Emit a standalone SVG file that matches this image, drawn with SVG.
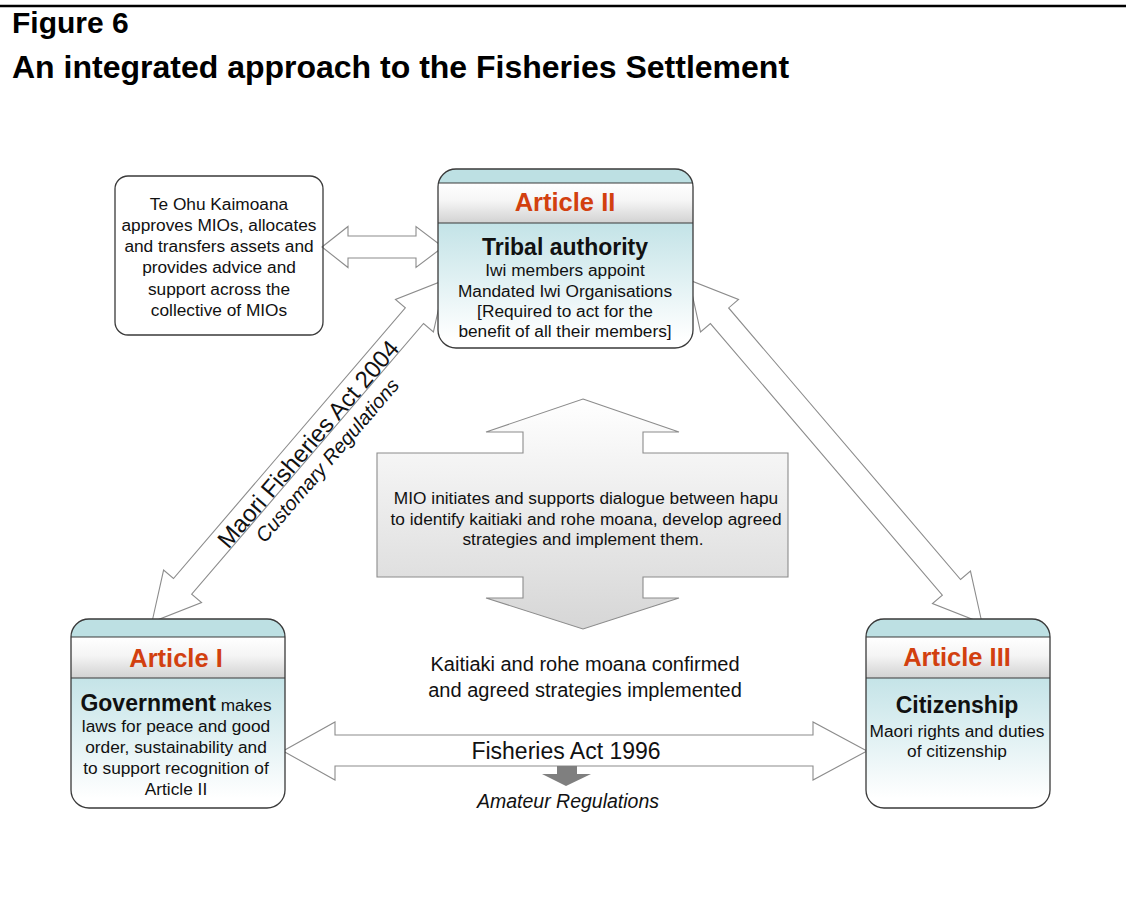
<svg xmlns="http://www.w3.org/2000/svg" width="1126" height="912" viewBox="0 0 1126 912">
<defs>
<style>
text{font-family:"Liberation Sans",Arial,Helvetica,sans-serif;fill:#111;}
.title{font-weight:bold;fill:#000;}
.art{font-weight:bold;font-size:25.5px;fill:#d2400f;text-anchor:middle;}
.head{font-weight:bold;font-size:23px;text-anchor:middle;}
.body{font-size:17.3px;text-anchor:middle;}
.frame{fill:none;stroke:#3a3a3a;stroke-width:1.3;}
.sep{stroke:#3a3a3a;stroke-width:1.1;}
.blk{fill:#fff;stroke:#8c8c8c;stroke-width:1.1;stroke-linejoin:miter;}
</style>
<linearGradient id="hdr" x1="0" y1="0" x2="0" y2="1">
<stop offset="0" stop-color="#ffffff"/><stop offset="0.45" stop-color="#f5f5f5"/><stop offset="1" stop-color="#d2d2d2"/>
</linearGradient>
<linearGradient id="bodyg" x1="0" y1="0" x2="0" y2="1">
<stop offset="0" stop-color="#bde0e3"/><stop offset="0.3" stop-color="#c3e3e7"/><stop offset="0.95" stop-color="#ffffff"/>
</linearGradient>
<linearGradient id="grayg" x1="0" y1="0" x2="0" y2="1">
<stop offset="0" stop-color="#ffffff"/><stop offset="1" stop-color="#d9d9d9"/>
</linearGradient>
<linearGradient id="miog" x1="0" y1="0" x2="0" y2="1">
<stop offset="0" stop-color="#ffffff"/><stop offset="1" stop-color="#d6d6d6"/>
</linearGradient>
<clipPath id="c1"><rect x="71" y="619" width="214" height="189" rx="18"/></clipPath>
<clipPath id="c2"><rect x="438" y="169" width="255" height="179" rx="18"/></clipPath>
<clipPath id="c3"><rect x="866" y="619" width="184" height="189" rx="18"/></clipPath>
</defs>
<rect width="1126" height="912" fill="#fff"/>
<line x1="0" y1="6" x2="1126" y2="6" stroke="#000" stroke-width="2.5"/>
<text x="12" y="33" class="title" font-size="30">Figure 6</text>
<text x="12" y="78" class="title" font-size="32">An integrated approach to the Fisheries Settlement</text>

<g id="connectors">
<polygon class="blk" points="322,247 348,226.5 348,236 416,236 416,226.5 443,247 416,267.5 416,258 348,258 348,267.5"/>
<polygon class="blk" points="152,622 163.59,570.03 173.47,578.49 405.32,307.88 395.44,299.42 445,280 433.42,331.96 423.54,323.5 191.69,594.11 201.57,602.57"/>
<polygon class="blk" points="689,280 700.52,331.98 710.41,323.53 942.34,595.07 932.45,603.52 982,623 970.47,571.04 960.58,579.49 728.65,307.95 738.54,299.5"/>
<polygon class="blk" points="283,751 335,722 335,735 813,735 813,722 867,751 813,780 813,766 335,766 335,780"/>
<polygon points="557,766 577,766 577,774 591,774 566,786 542,774 557,774" fill="#7f7f7f"/>
<text transform="translate(314.5,449.5) rotate(-49.4)" font-size="24" text-anchor="middle">Maori Fisheries Act 2004</text>
<text transform="translate(332.5,464.8) rotate(-49.4)" font-size="20" font-style="italic" text-anchor="middle">Customary Regulations</text>
<text x="566" y="759" font-size="23" text-anchor="middle">Fisheries Act 1996</text>
<text x="568" y="808" font-size="19.5" font-style="italic" text-anchor="middle">Amateur Regulations</text>
</g>

<g id="te-ohu-kaimoana">
<rect x="115" y="176" width="208" height="159" rx="13" fill="url(#grayg)" class="frame"/>
<text class="body" x="219" y="210">Te Ohu Kaimoana</text>
<text class="body" x="219" y="231">approves MIOs, allocates</text>
<text class="body" x="219" y="252">and transfers assets and</text>
<text class="body" x="219" y="273">provides advice and</text>
<text class="body" x="219" y="295">support across the</text>
<text class="body" x="219" y="316">collective of MIOs</text>
</g>

<g id="article-2">
<rect x="438" y="169" width="255" height="179" rx="18" fill="url(#bodyg)"/>
<g clip-path="url(#c2)">
<rect x="438" y="169" width="255" height="14" fill="#bde0e3"/>
<rect x="438" y="183" width="255" height="40" fill="url(#hdr)"/>
</g>
<line class="sep" x1="438" y1="183" x2="693" y2="183"/>
<line class="sep" x1="438" y1="223" x2="693" y2="223"/>
<rect x="438" y="169" width="255" height="179" rx="18" class="frame"/>
<text class="art" x="565" y="211">Article II</text>
<text class="head" x="565" y="255">Tribal authority</text>
<text class="body" x="565" y="276">Iwi members appoint</text>
<text class="body" x="565" y="297">Mandated Iwi Organisations</text>
<text class="body" x="565" y="317">[Required to act for the</text>
<text class="body" x="565" y="337">benefit of all their members]</text>
</g>

<g id="mio-dialogue">
<polygon points="583,399 679,432 643,432 643,453 788,453 788,577 643,577 643,598 679,598 583,629 486,598 523,598 523,577 377,577 377,453 523,453 523,432 486,432" fill="url(#miog)" stroke="#8c8c8c" stroke-width="1.1"/>
<text class="body" x="586" y="504">MIO initiates and supports dialogue between hapu</text>
<text class="body" x="586" y="525">to identify kaitiaki and rohe moana, develop agreed</text>
<text class="body" x="583" y="545">strategies and implement them.</text>
</g>

<g id="outcome">
<text x="585" y="671" font-size="20" text-anchor="middle">Kaitiaki and rohe moana confirmed</text>
<text x="585" y="697" font-size="20" text-anchor="middle">and agreed strategies implemented</text>
</g>

<g id="article-1">
<rect x="71" y="619" width="214" height="189" rx="18" fill="url(#bodyg)"/>
<g clip-path="url(#c1)">
<rect x="71" y="619" width="214" height="18" fill="#bde0e3"/>
<rect x="71" y="637" width="214" height="41" fill="url(#hdr)"/>
</g>
<line class="sep" x1="71" y1="637" x2="285" y2="637"/>
<line class="sep" x1="71" y1="678" x2="285" y2="678"/>
<rect x="71" y="619" width="214" height="189" rx="18" class="frame"/>
<text class="art" x="176" y="667">Article I</text>
<text class="body" x="176" y="711"><tspan font-weight="bold" font-size="23">Government</tspan> makes</text>
<text class="body" x="176" y="732">laws for peace and good</text>
<text class="body" x="176" y="753">order, sustainability and</text>
<text class="body" x="176" y="774">to support recognition of</text>
<text class="body" x="176" y="795">Article II</text>
</g>

<g id="article-3">
<rect x="866" y="619" width="184" height="189" rx="18" fill="url(#bodyg)"/>
<g clip-path="url(#c3)">
<rect x="866" y="619" width="184" height="18" fill="#bde0e3"/>
<rect x="866" y="637" width="184" height="41" fill="url(#hdr)"/>
</g>
<line class="sep" x1="866" y1="637" x2="1050" y2="637"/>
<line class="sep" x1="866" y1="678" x2="1050" y2="678"/>
<rect x="866" y="619" width="184" height="189" rx="18" class="frame"/>
<text class="art" x="957" y="666">Article III</text>
<text class="head" x="957" y="713">Citizenship</text>
<text class="body" x="957" y="737">Maori rights and duties</text>
<text class="body" x="957" y="757">of citizenship</text>
</g>
</svg>
